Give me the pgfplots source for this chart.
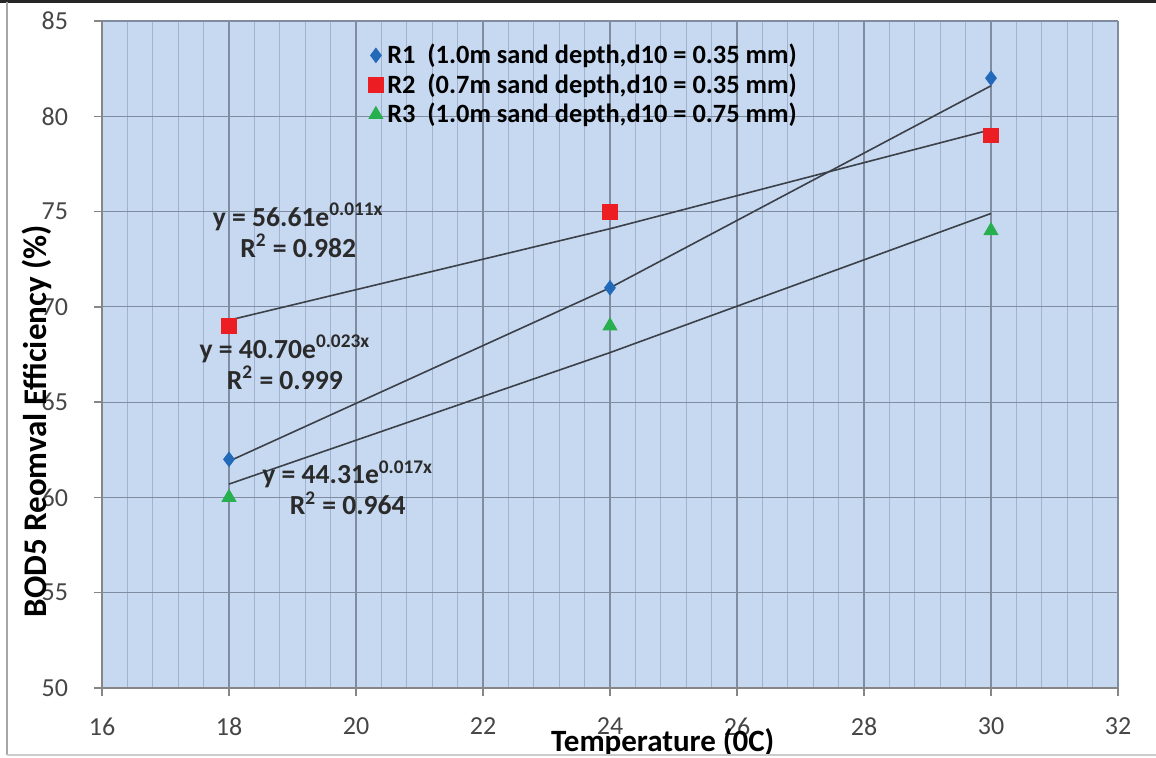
\documentclass[border=0pt]{standalone}
\usepackage{fontspec}
\setmainfont{Carlito}
\usepackage{pgfplots}
\pgfplotsset{compat=1.18}

\definecolor{plotbg}{RGB}{198,217,241}
\definecolor{gridmajor}{RGB}{128,140,160}
\definecolor{gridminor}{RGB}{160,178,204}
\definecolor{axisgray}{RGB}{134,134,134}
\definecolor{ticktext}{RGB}{70,70,70}
\definecolor{rblue}{RGB}{35,105,185}
\definecolor{rred}{RGB}{236,30,36}
\definecolor{rgreen}{RGB}{40,175,80}
\definecolor{trend}{RGB}{60,64,72}

\begin{document}
\begin{tikzpicture}
% page = 1156x758 px at 2 px per pt
\useasboundingbox (-51pt,-35pt) rectangle (527pt,344pt);
\begin{axis}[
    scale only axis,
    width=508pt, height=333.5pt,
    xmin=16, xmax=32, ymin=50, ymax=85,
    xtick={16,18,...,32},
    ytick={50,55,...,85},
    minor x tick num=4,
    grid=both,
    major grid style={draw=gridmajor, line width=0.6pt},
    minor grid style={draw=gridminor, line width=0.5pt},
    axis background/.style={fill=plotbg},
    axis x line*=bottom, axis y line*=left,
    axis line style={draw=axisgray, line width=0.7pt, -},
    tick align=outside,
    major tick length=4pt, minor tick length=0pt,
    tick style={draw=axisgray, line width=0.7pt},
    /pgf/number format/assume math mode=true,
    ticklabel style={font=\fontsize{13}{15}\selectfont, text=ticktext},
    xticklabel style={anchor=north, yshift=-7.5pt},
    yticklabel style={anchor=east, xshift=-9.5pt},
    xlabel={Temperature (0C)},
    ylabel={BOD5 Reomval Efficiency (\%)},
    xlabel style={at={(axis description cs:0.552,-0.081)}, anchor=center,
        font=\bfseries\fontsize{15.5}{17}\selectfont},
    ylabel style={at={(axis description cs:-0.064,0.4)}, anchor=center,
        font=\bfseries\fontsize{16.5}{18}\selectfont},
    legend style={at={(axis description cs:0.256,0.978)}, anchor=north west,
        draw=none, fill=none, row sep=-0.5pt,
        font=\bfseries\fontsize{13.2}{15}\selectfont},
    legend cell align=left,
]
% observed values
\addplot[only marks, mark=diamond*, mark size=3.6pt, draw=rblue, fill=rblue]
    coordinates {(18,62) (24,71) (30,82)};
\addplot[only marks, mark=square*, mark size=3.7pt, draw=rred, fill=rred]
    coordinates {(18,69) (24,75) (30,79)};
\addplot[only marks, mark=triangle*, mark size=4pt, draw=rgreen, fill=rgreen]
    coordinates {(18,60) (24,69) (30,74)};
\legend{R1~~(1.0m sand depth{,}d10 = 0.35 mm),
        R2~~(0.7m sand depth{,}d10 = 0.35 mm),
        R3~~(1.0m sand depth{,}d10 = 0.75 mm)}

% exponential trendlines
\addplot[forget plot, trend, line width=0.8pt]
    coordinates {(18,61.9) (24,71.0) (30,81.6)};
\addplot[forget plot, trend, line width=0.8pt]
    coordinates {(18,69.3) (24,74.1) (30,79.3)};
\addplot[forget plot, trend, line width=0.8pt]
    coordinates {(18,60.7) (24,67.6) (30,74.9)};

\node[font=\bfseries\fontsize{13.8}{15.5}\selectfont, text=ticktext!60!black, align=center]
    at (axis cs:19.09,74.03) {y = 56.61e\textsuperscript{0.011x}\\R\textsuperscript{2} = 0.982};
\node[font=\bfseries\fontsize{13.8}{15.5}\selectfont, text=ticktext!60!black, align=center]
    at (axis cs:18.88,67.1) {y = 40.70e\textsuperscript{0.023x}\\R\textsuperscript{2} = 0.999};
\node[font=\bfseries\fontsize{13.8}{15.5}\selectfont, text=ticktext!60!black, align=center]
    at (axis cs:19.87,60.5) {y = 44.31e\textsuperscript{0.017x}\\R\textsuperscript{2} = 0.964};
\end{axis}
% chart area border
\draw[black!85, line width=1.6pt] (-51pt,343.2pt) -- (527pt,343.2pt);
\draw[gray!70, line width=0.8pt] (-47.5pt,343pt) -- (-47.5pt,-33.5pt);
\draw[gray!40, line width=0.8pt] (-47.5pt,-33.5pt) -- (527pt,-33.5pt);
\end{tikzpicture}
\end{document}
